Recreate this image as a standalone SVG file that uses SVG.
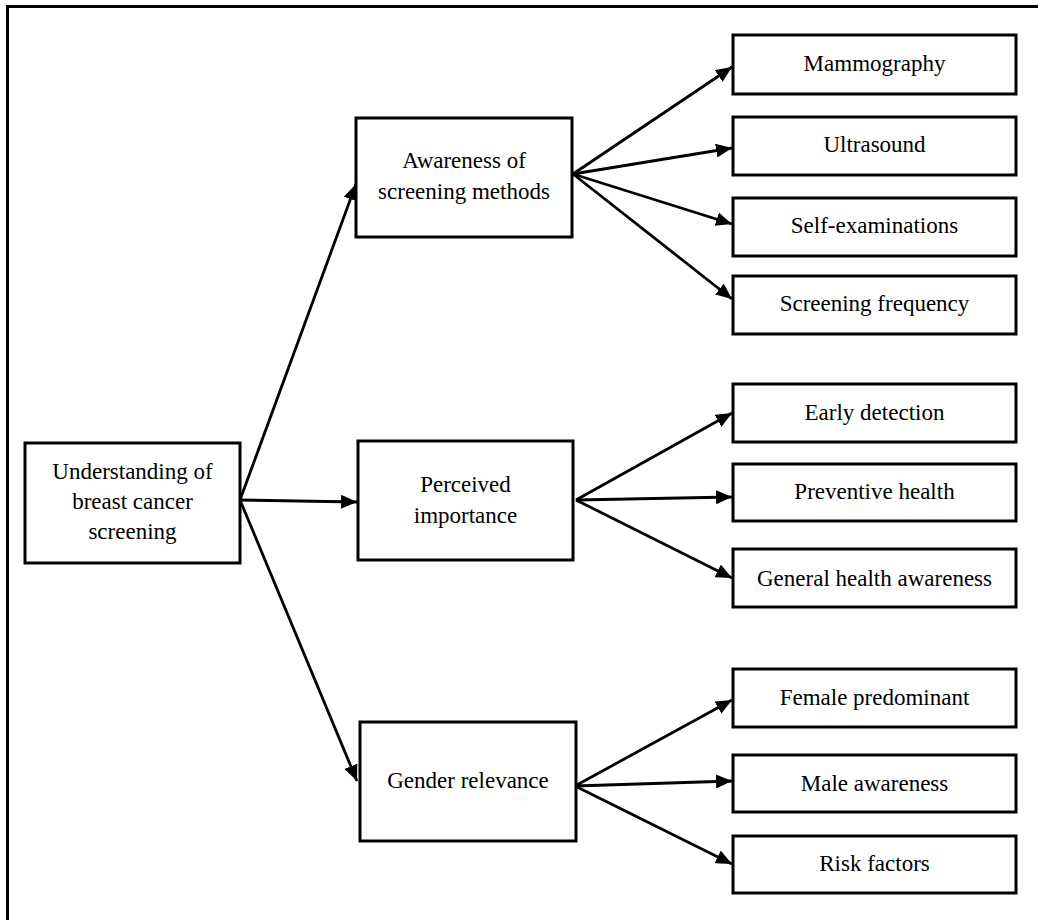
<svg xmlns="http://www.w3.org/2000/svg" width="1038" height="920" viewBox="0 0 1038 920">
<style>
.box{fill:#fff;stroke:#000;stroke-width:3}
.t{font-family:"Liberation Serif","Times New Roman",serif;font-size:23px;fill:#000;text-anchor:middle}
.c{stroke:#000;stroke-width:2.8;fill:none;marker-end:url(#ah)}
</style>
<defs>
<marker id="ah" markerUnits="userSpaceOnUse" markerWidth="18" markerHeight="14" refX="16" refY="7" orient="auto">
<path d="M0,0 L16,7 L0,14 z" fill="#000"/>
</marker>
</defs>
<rect x="7.5" y="6.5" width="1100" height="1000" fill="#fff" stroke="#000" stroke-width="3"/>
<g id="connectors">
<line class="c" x1="240" y1="500" x2="356" y2="184"/>
<line class="c" x1="240" y1="500" x2="357" y2="502"/>
<line class="c" x1="240" y1="500" x2="357" y2="781"/>
<line class="c" x1="573" y1="174" x2="732" y2="67"/>
<line class="c" x1="573" y1="174" x2="732" y2="148"/>
<line class="c" x1="573" y1="174" x2="732" y2="224"/>
<line class="c" x1="573" y1="174" x2="732" y2="299"/>
<line class="c" x1="576" y1="500" x2="732" y2="413"/>
<line class="c" x1="576" y1="500" x2="732" y2="497"/>
<line class="c" x1="576" y1="500" x2="732" y2="578"/>
<line class="c" x1="575" y1="786" x2="732" y2="700"/>
<line class="c" x1="575" y1="786" x2="732" y2="781"/>
<line class="c" x1="575" y1="786" x2="732" y2="864"/>
</g>
<g id="root">
<rect class="box" x="25" y="443" width="215" height="120"/>
<text class="t" x="132.5" y="479">Understanding of</text>
<text class="t" x="132.5" y="509">breast cancer</text>
<text class="t" x="132.5" y="539">screening</text>
</g>
<g id="awareness">
<rect class="box" x="356" y="118" width="216" height="119"/>
<text class="t" x="464" y="168">Awareness of</text>
<text class="t" x="464" y="199">screening methods</text>
</g>
<g id="perceived">
<rect class="box" x="358" y="441" width="215" height="119"/>
<text class="t" x="465.5" y="492">Perceived</text>
<text class="t" x="465.5" y="523">importance</text>
</g>
<g id="gender">
<rect class="box" x="360" y="722" width="216" height="119"/>
<text class="t" x="468" y="788">Gender relevance</text>
</g>
<g id="mammography">
<rect class="box" x="733" y="35" width="283" height="59"/>
<text class="t" x="874.5" y="71">Mammography</text>
</g>
<g id="ultrasound">
<rect class="box" x="733" y="117" width="283" height="58"/>
<text class="t" x="874.5" y="152">Ultrasound</text>
</g>
<g id="self-exam">
<rect class="box" x="733" y="198" width="283" height="58"/>
<text class="t" x="874.5" y="233">Self-examinations</text>
</g>
<g id="screening-frequency">
<rect class="box" x="733" y="276" width="283" height="58"/>
<text class="t" x="874.5" y="311">Screening frequency</text>
</g>
<g id="early-detection">
<rect class="box" x="733" y="384" width="283" height="58"/>
<text class="t" x="874.5" y="420">Early detection</text>
</g>
<g id="preventive-health">
<rect class="box" x="733" y="464" width="283" height="57"/>
<text class="t" x="874.5" y="499">Preventive health</text>
</g>
<g id="general-health">
<rect class="box" x="733" y="549" width="283" height="58"/>
<text class="t" x="874.5" y="586">General health awareness</text>
</g>
<g id="female">
<rect class="box" x="733" y="669" width="283" height="58"/>
<text class="t" x="874.5" y="705">Female predominant</text>
</g>
<g id="male">
<rect class="box" x="733" y="755" width="283" height="57"/>
<text class="t" x="874.5" y="791">Male awareness</text>
</g>
<g id="risk">
<rect class="box" x="733" y="836" width="283" height="57"/>
<text class="t" x="874.5" y="871">Risk factors</text>
</g>
</svg>
